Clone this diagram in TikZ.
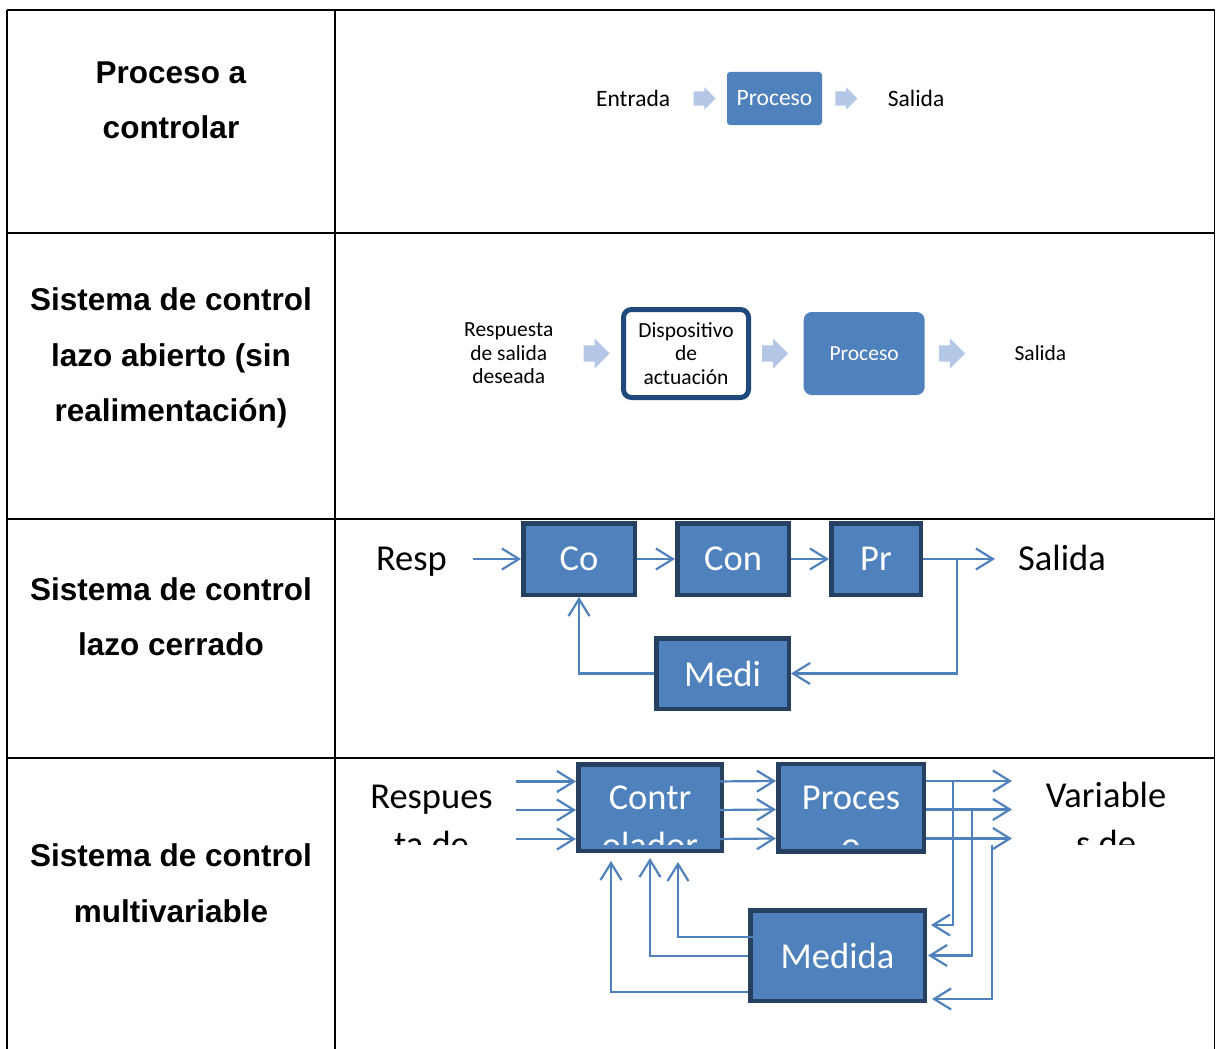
\documentclass[tikz,border=0pt]{standalone}
\usepackage{fontspec}
\setmainfont{Carlito}
\newfontfamily\labelfont{Liberation Sans}
\usetikzlibrary{positioning, shapes.arrows, arrows.meta}

\definecolor{boxblue}{RGB}{79,129,189}
\definecolor{boxedge}{RGB}{37,64,97}
\definecolor{actedge}{RGB}{31,73,125}
\definecolor{paleblue}{RGB}{180,199,231}

\begin{document}
\begin{tikzpicture}[
            x=1pt, y=-1pt,
            rowlabel/.style={font=\labelfont\bfseries\fontsize{31.5}{55.5}\selectfont, align=center, inner sep=0},
            plain/.style={inner sep=0, align=center},
            midtext/.style={font=\fontsize{23.5}{28}\selectfont},
            smalltext/.style={font=\fontsize{21.5}{23.5}\selectfont},
            bigtext/.style={font=\fontsize{36.5}{48}\selectfont},
            softbox/.style={rectangle, fill=boxblue, text=white, rounded corners=3pt, inner sep=0},
            outlinebox/.style={rectangle, draw=actedge, line width=5pt, fill=white, rounded corners=8pt, inner sep=0, align=center},
            bigbox/.style={rectangle, draw=boxedge, line width=4.5pt, fill=boxblue, text=white, inner sep=0, bigtext},
            fatarrow/.style={single arrow, fill=paleblue, inner xsep=0, inner ysep=7pt, minimum height=22pt, minimum width=0pt, single arrow head extend=4pt},
            widearrow/.style={single arrow, fill=paleblue, inner xsep=0, inner ysep=8pt, minimum height=26pt, minimum width=0pt, single arrow head extend=7pt},
            flow/.style={draw=boxblue, line width=2.2pt, -{Straight Barb[length=17pt, width=21pt]}}
        ]
        \useasboundingbox (0,0) rectangle (1216,1049);

        % Table
        \draw[line width=1.5pt] (7,10) -- (1215,10);
        \draw[line width=1.5pt] (7,10) -- (7,1049);
        \draw[line width=1.5pt] (1214.5,10) -- (1214.5,1049);
        \draw[line width=1.5pt] (335,10) -- (335,1049);
        \draw[line width=1.5pt] (7,233) -- (1215,233);
        \draw[line width=1.5pt] (7,519) -- (1215,519);
        \draw[line width=1.5pt] (7,758) -- (1215,758);

        % Row labels
        \node[rowlabel] (lab1) at (171,100.5) {Proceso a\\controlar};
        \node[rowlabel] (lab2) at (171,358) {Sistema de control\\lazo abierto (sin\\realimentación)};
        \node[rowlabel] (lab3) at (171,616.5) {Sistema de control\\lazo cerrado};
        \node[rowlabel] (lab4) at (171,883) {Sistema de control\\multivariable};

        % Proceso a controlar
        \node[softbox, midtext, minimum width=95pt, minimum height=53pt] (proc1) at (774.5,98.5) {Proceso};
        \node[fatarrow, left=11pt of proc1] (in1) {};
        \node[plain, midtext, left=23pt of in1] (entrada1) {Entrada};
        \node[fatarrow, right=13pt of proc1] (out1) {};
        \node[plain, midtext, right=30pt of out1] (salida1) {Salida};

        % Lazo abierto
        \node[outlinebox, smalltext, minimum width=125pt, minimum height=88pt] (act2) at (686,353.5) {Dispositivo\\de\\actuación};
        \node[widearrow, left=11pt of act2] (in2) {};
        \node[plain, smalltext, left=30pt of in2] (resp2) {Respuesta\\de salida\\deseada};
        \node[widearrow, right=11pt of act2] (mid2) {};
        \node[softbox, smalltext, rounded corners=8pt, minimum width=121pt, minimum height=83pt, right=15pt of mid2] (proc2) {Proceso};
        \node[widearrow, right=14pt of proc2] (out2) {};
        \node[plain, smalltext, right=49pt of out2] (salida2) {Salida};

        % Lazo cerrado
        \node[bigbox, minimum width=111.5pt, minimum height=71.5pt] (co) at (579,559) {Co};
        \node[bigbox, minimum width=111.5pt, minimum height=71.5pt, right=38pt of co] (con) {Con};
        \node[bigbox, minimum width=89.5pt, minimum height=71.5pt, right=38pt of con] (pr) {Pr};
        \node[bigbox, minimum width=132.5pt, minimum height=70.5pt, below=39pt of con.south east, anchor=north east] (medi) {Medi};
        \node[plain, bigtext, left=74pt of co.base west, anchor=base east] (resp3) {Resp};
        \node[plain, bigtext, right=95pt of pr.base east, anchor=base west] (salida3) {Salida};

        \draw[flow] ([xshift=-48pt]co.west) -- (co.west);
        \draw[flow] (co.east) -- (con.west);
        \draw[flow] (con.east) -- (pr.west);
        \draw[flow] (pr.east) -- ++(72,0);
        \draw[flow] ([xshift=34pt]pr.east) |- (medi.east);
        \draw[flow] (medi.west) -| (co.south);

        % Multivariable
        \node[bigbox, minimum width=143.5pt, minimum height=86.5pt] (ctrl) at (650,807.5) {};
        \node[bigbox, minimum width=145.5pt, minimum height=87.5pt, right=52pt of ctrl] (proc4) {};
        \node[bigbox, minimum width=174.5pt, minimum height=90.5pt] (meas) at (837.5,955.5) {Medida};

        \begin{scope}
            \clip (0,0) rectangle (1216,844);
            \node[plain, bigtext, text=white, below=24pt of ctrl.north] (ctrltext) {Contr\\olador};
            \node[plain, bigtext, text=white, below=24pt of proc4.north] (proctext) {Proces\\o};
            \node[plain, bigtext, anchor=north] (resp4) at (431.5,785) {Respues\\ta de};
            \node[plain, bigtext, anchor=north] (var4) at (1106,782) {Variable\\s de};
        \end{scope}

        \draw[flow] ([xshift=-60pt,yshift=26pt]ctrl.west) -- ([yshift=26pt]ctrl.west);
        \draw[flow] ([xshift=-60pt,yshift=-2.5pt]ctrl.west) -- ([yshift=-2.5pt]ctrl.west);
        \draw[flow] ([xshift=-60pt,yshift=-31.5pt]ctrl.west) -- ([yshift=-31.5pt]ctrl.west);

        \draw[flow] ([xshift=-11pt,yshift=26pt]ctrl.east) -- ([yshift=26.5pt]proc4.west);
        \draw[flow] ([xshift=-11pt,yshift=-2.5pt]ctrl.east) -- ([yshift=-2pt]proc4.west);
        \draw[flow] ([xshift=-11pt,yshift=-31.5pt]ctrl.east) -- ([yshift=-31pt]proc4.west);

        \draw[flow] ([yshift=26.5pt]proc4.east) -- ++(86,0);
        \draw[flow] ([yshift=-2pt]proc4.east) -- ++(86,0);
        \draw[flow] ([yshift=-31pt]proc4.east) -- ++(86,0);

        \draw[flow] ([xshift=27pt,yshift=26.5pt]proc4.east) |- ([xshift=4pt,yshift=30.5pt]meas.east);
        \draw[flow] ([xshift=46pt,yshift=-2pt]proc4.east) |- ([xshift=1pt]meas.east);
        \draw[flow] ([xshift=66pt,yshift=-37pt]proc4.east) |- ([xshift=5pt,yshift=-43.5pt]meas.east);

        \draw[flow] ([yshift=-36.5pt]meas.west) -| ([xshift=-39pt,yshift=-8pt]ctrl.south);
        \draw[flow] ([yshift=-0.5pt]meas.west) -| ([yshift=-5pt]ctrl.south);
        \draw[flow] ([xshift=22pt,yshift=-20.5pt]meas.west) -- ([xshift=22pt,yshift=18.5pt]meas.west) -| ([xshift=28pt,yshift=-9pt]ctrl.south);

\end{tikzpicture}
\end{document}
